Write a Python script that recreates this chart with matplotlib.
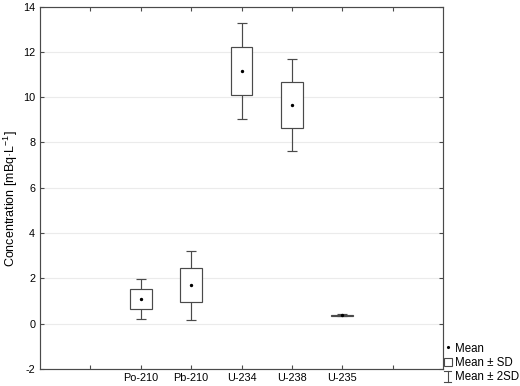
import numpy as np
import matplotlib.pyplot as plt
from matplotlib.lines import Line2D
from matplotlib.patches import Rectangle
from matplotlib.legend_handler import HandlerBase

plt.rcParams['font.family'] = ['Liberation Sans', 'DejaVu Sans']
plt.rcParams['axes.unicode_minus'] = False

isotopes = ['Po-210', 'Pb-210', 'U-234', 'U-238', 'U-235']
means = [1.09, 1.70, 11.16, 9.65, 0.38]
sds = [0.45, 0.76, 1.06, 1.02, 0.02]
y_ticks = [-2, 0, 2, 4, 6, 8, 10, 12, 14]

edge = '#4a4a4a'


class IBeamHandler(HandlerBase):
    def create_artists(self, legend, orig_handle, xdescent, ydescent,
                       width, height, fontsize, trans):
        cx = width / 2 - xdescent
        w = width * 0.4
        y0 = -ydescent - 1
        y1 = height - ydescent + 1
        lines = [
            Line2D([cx, cx], [y0, y1]),
            Line2D([cx - w, cx + w], [y0, y0]),
            Line2D([cx - w, cx + w], [y1, y1]),
        ]
        for ln in lines:
            ln.set_color(edge)
            ln.set_linewidth(0.8)
            ln.set_transform(trans)
        return lines


fig = plt.figure(figsize=(5.2, 3.86), dpi=100)
ax = fig.add_axes([0.077, 0.044, 0.775, 0.939])

pos = np.arange(2, 2 + len(isotopes))
means = np.array(means)
sds = np.array(sds)

ax.errorbar(pos, means, yerr=2 * sds, fmt='none', ecolor=edge,
            elinewidth=0.85, capsize=3.3, capthick=0.85, zorder=2)
ax.bar(pos, 2 * sds, bottom=means - sds, width=0.43, facecolor='white',
       edgecolor=edge, linewidth=0.85, zorder=3)
ax.scatter(pos, means, s=2, color='black', zorder=4)

ax.set_xlim(0, 8)
ax.set_ylim(-2, 14)
ax.set_yticks(y_ticks)
ax.set_xticks(range(1, 8))
ax.set_xticklabels([''] + isotopes + [''])
ax.tick_params(direction='in', length=3, width=0.8, color=edge,
               top=True, right=True, labelsize=7.8)
ax.tick_params(axis='x', pad=3)
ax.tick_params(axis='y', pad=3.5)
ax.grid(axis='y', color='#ebebeb', linewidth=0.8)
ax.set_axisbelow(True)
for s in ax.spines.values():
    s.set_color(edge)
    s.set_linewidth(0.85)
ax.set_ylabel('Concentration [mBq·L$^{\\mathregular{-1}}$]', fontsize=9)
ax.yaxis.set_label_coords(-0.05, 0.47)

handles = [
    Line2D([], [], linestyle='none', marker='.', markersize=2.5, color='black'),
    Rectangle((0, 0), 1, 1, facecolor='white', edgecolor=edge, linewidth=0.8),
    'ibeam',
]
labels = ['Mean', 'Mean ± SD', 'Mean ± 2SD']
fig.legend(handles, labels, loc='center left', bbox_to_anchor=(0.853, 0.06),
           frameon=False, fontsize=8.3, handlelength=0.75, handleheight=0.75,
           handletextpad=0.2, labelspacing=0.2, borderpad=0,
           borderaxespad=0, handler_map={str: IBeamHandler()})

fig.savefig('out.png', dpi=100)
